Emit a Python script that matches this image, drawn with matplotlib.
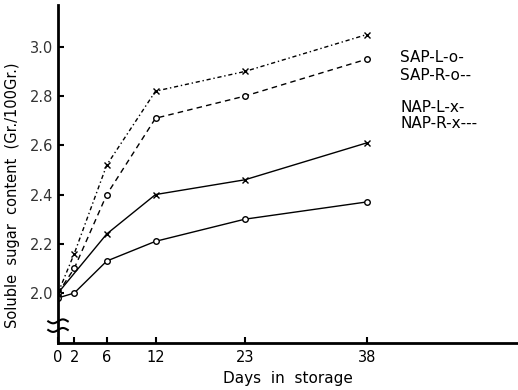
import matplotlib.pyplot as plt
import numpy as np

# values
sap_l_days = [0, 2, 6, 12, 23, 38]
sap_l = [1.98, 2.00, 2.13, 2.21, 2.30, 2.37]
sap_r_days = [0, 2, 6, 12, 23, 38]
sap_r = [2.00, 2.10, 2.40, 2.71, 2.80, 2.95]
nap_l_days = [0, 6, 12, 23, 38]
nap_l = [2.00, 2.24, 2.40, 2.46, 2.61]
nap_r_days = [0, 2, 6, 12, 23, 38]
nap_r = [2.00, 2.16, 2.52, 2.82, 2.90, 3.05]

x_ticks = [0, 2, 6, 12, 23, 38]
y_ticks = [2.0, 2.2, 2.4, 2.6, 2.8, 3.0]
legend_labels = ['SAP-L-o-', 'SAP-R-o--', 'NAP-L-x-', 'NAP-R-x---']

fig = plt.figure(figsize=(5.18, 3.9), dpi=100)
ax = fig.add_axes([58/518, 47/390, 460/518, 338/390])

ax.plot(sap_l_days, sap_l, color='k', lw=1, marker='o', ms=4, mfc='white', mec='k', mew=1)
ax.plot(sap_r_days, sap_r, color='k', lw=1, ls=(0, (4, 3)), marker='o', ms=4, mfc='white', mec='k', mew=1)
ax.plot(nap_l_days, nap_l, color='k', lw=1, marker='x', ms=4, mew=1)
ax.plot(nap_r_days, nap_r, color='k', lw=1, ls=(0, (3, 2, 1, 2)), marker='x', ms=4, mew=1)

ax.set_xlim(0, 56.6)
ax.set_ylim(1.797, 3.17)
ax.set_xticks(x_ticks)
ax.set_yticks(y_ticks)
ax.set_yticklabels([f'{v:.1f}' for v in y_ticks], color='#333333')
ax.tick_params(direction='in', length=4, width=1.5, labelsize=10.5)
ax.tick_params(axis='x', pad=5)
for s in ['top', 'right']:
    ax.spines[s].set_visible(False)
for s in ['left', 'bottom']:
    ax.spines[s].set_linewidth(2)

# axis break marks
for yb in [1.885, 1.85]:
    xs = np.linspace(-1.2, 1.2, 20)
    ax.plot(xs, yb + 0.008*np.sin(xs*2.6), color='k', lw=1.5, clip_on=False)

ax.set_xlabel('Days  in  storage', fontsize=11, labelpad=4)
fig.text(13/518, 1 - 195/390, 'Soluble  sugar  content  (Gr./100Gr.)', fontsize=10.5,
         rotation=90, ha='center', va='center')

ys = [58, 75, 107, 124]
for lab, yp in zip(legend_labels, ys):
    fig.text(400/518, 1 - yp/390, lab, fontsize=11, va='center', ha='left')

fig.savefig('out.png', dpi=100)
